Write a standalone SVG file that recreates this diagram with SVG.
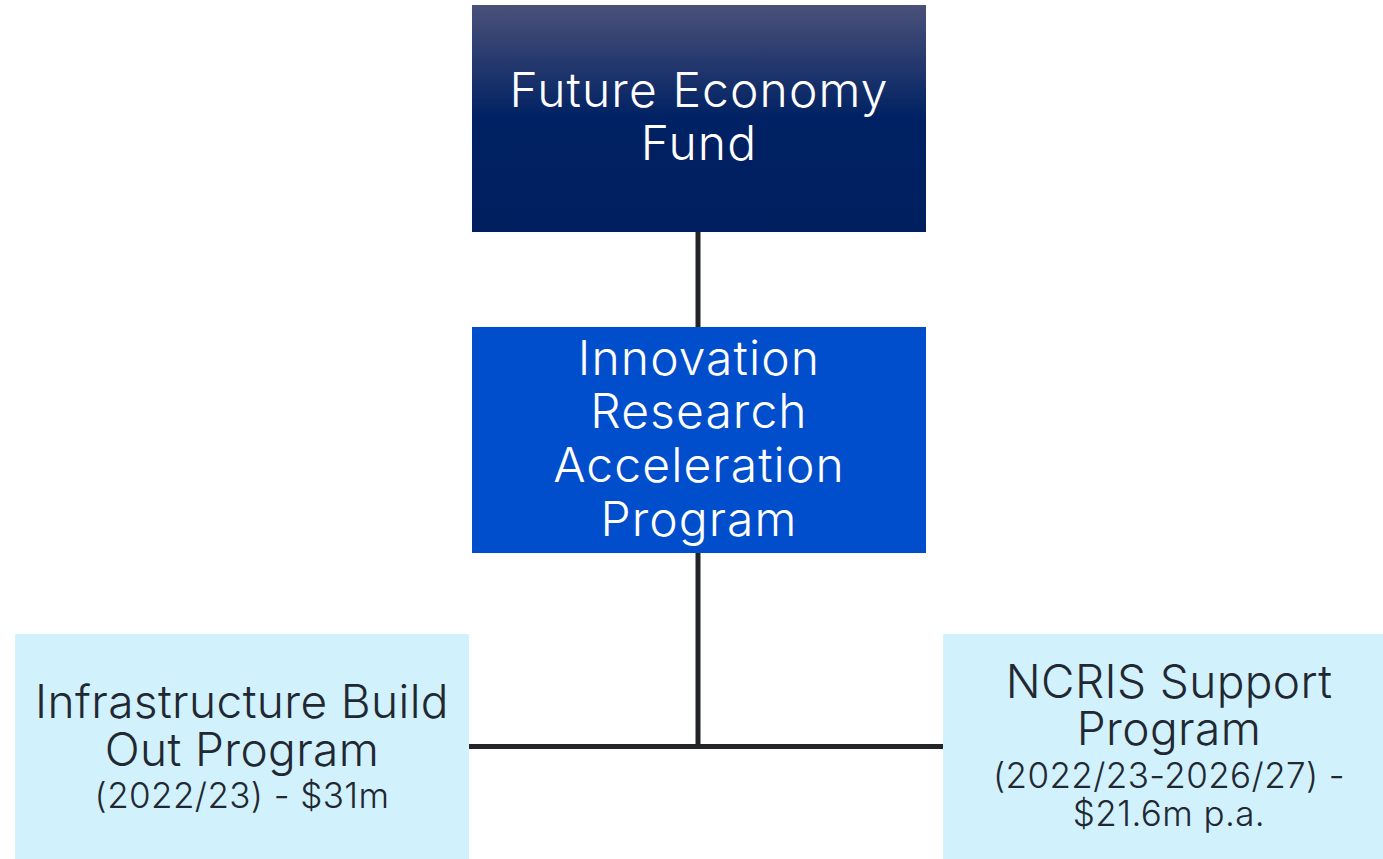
<svg xmlns="http://www.w3.org/2000/svg" width="1383" height="859" viewBox="0 0 1383 859">
  <defs>
    <linearGradient id="fundGrad" x1="0" y1="0" x2="0" y2="1">
      <stop offset="0" stop-color="#4a5179"/>
      <stop offset="0.5" stop-color="#002163"/>
      <stop offset="1" stop-color="#001f5f"/>
    </linearGradient>
    <style>
      .lbl { font-family: Inter, "Liberation Sans", sans-serif; text-anchor: middle; font-weight: 300; }
      .big { font-size: 48px; letter-spacing: 1.1px; }
      .mid { font-size: 46px; letter-spacing: 0.4px; }
      .sm { font-size: 35px; letter-spacing: 0.4px; }
      .light { fill: #ffffff; }
      .dark { fill: #222831; }
      .conn { stroke: #222428; stroke-width: 5; fill: none; }
    </style>
  </defs>

  <rect width="1383" height="859" fill="#ffffff"/>

  <g id="connectors">
    <line class="conn" x1="698" y1="230" x2="698" y2="329"/>
    <line class="conn" x1="698" y1="551" x2="698" y2="749"/>
    <line class="conn" x1="467" y1="746.500" x2="945" y2="746.500"/>
  </g>

  <g id="future-economy-fund">
    <rect x="472" y="5" width="454" height="227" fill="url(#fundGrad)"/>
    <text class="lbl big light" x="699" y="107">Future Economy</text>
    <text class="lbl big light" x="699" y="160">Fund</text>
  </g>

  <g id="innovation-research">
    <rect x="472" y="327" width="454" height="226" fill="#004ecb"/>
    <text class="lbl big light" x="699" y="375">Innovation</text>
    <text class="lbl big light" x="699" y="428">Research</text>
    <text class="lbl big light" x="699" y="482">Acceleration</text>
    <text class="lbl big light" x="699" y="536">Program</text>
  </g>

  <g id="infrastructure-build">
    <rect x="15" y="634" width="454" height="225" fill="#d1f1fd"/>
    <text class="lbl mid dark" x="242" y="718">Infrastructure Build</text>
    <text class="lbl mid dark" x="242" y="766">Out Program</text>
    <text class="lbl sm dark" x="242" y="808">(2022/23) - $31m</text>
  </g>

  <g id="ncris-support">
    <rect x="943" y="634" width="440" height="225" fill="#d1f1fd"/>
    <text class="lbl mid dark" x="1169" y="698">NCRIS Support</text>
    <text class="lbl mid dark" x="1169" y="745">Program</text>
    <text class="lbl sm dark" x="1169" y="788">(2022/23-2026/27) -</text>
    <text class="lbl sm dark" x="1169" y="826">$21.6m p.a.</text>
  </g>
</svg>
